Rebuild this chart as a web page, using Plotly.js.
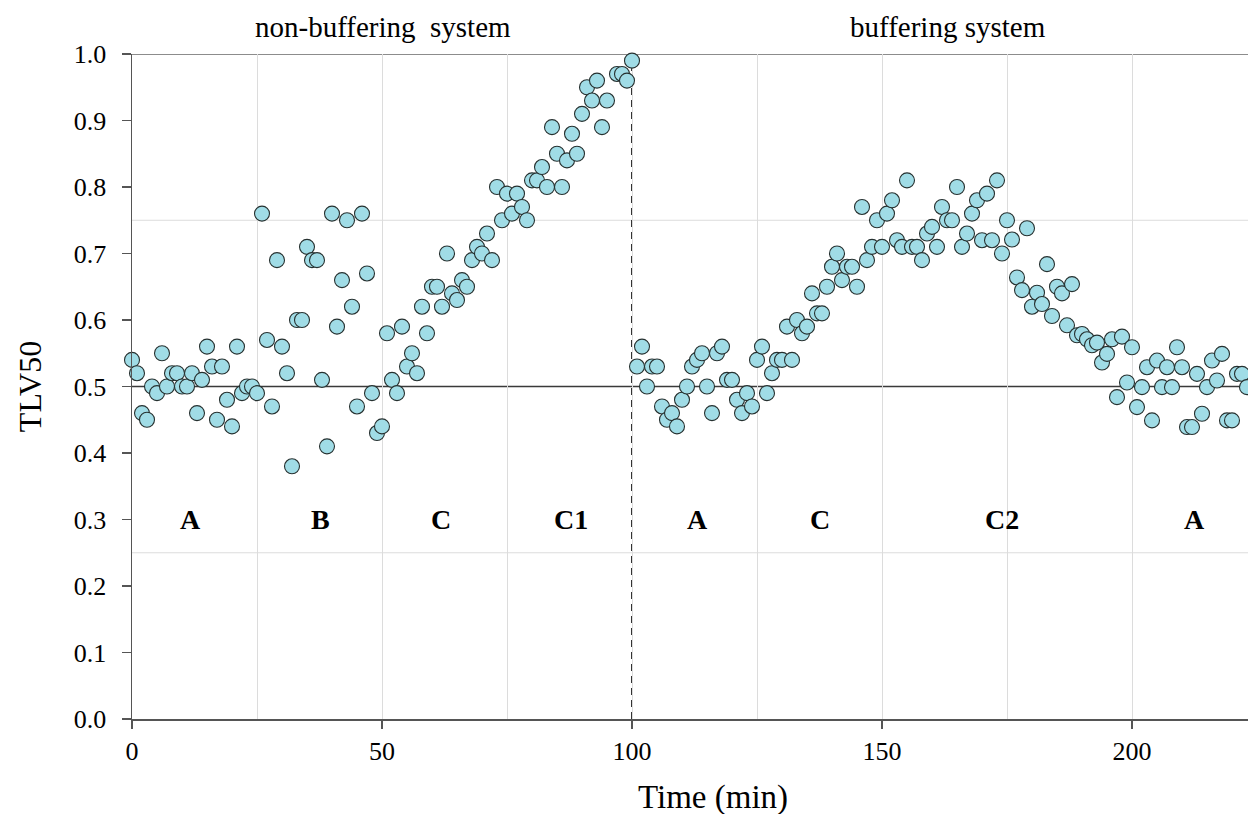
<!DOCTYPE html>
<html>
<head>
<meta charset="utf-8">
<script src="https://cdn.plot.ly/plotly-3.0.1.min.js"></script>
<style>html,body{margin:0;padding:0;background:#fff;}#chart{width:1248px;height:814px;}</style>
</head>
<body>
<div id="chart"></div>
<script>
// Non-buffering system (0-100 min)
const timeNonBuf = [0,1,2,3,4,5,6,7,8,9,10,11,12,13,14,15,16,17,18,19,20,21,22,23,24,25,26,27,28,29,30,31,32,33,34,35,36,37,38,39,40,41,42,43,44,45,46,47,48,49,50,51,52,53,54,55,56,57,58,59,60,61,62,63,64,65,66,67,68,69,70,71,72,73,74,75,76,77,78,79,80,81,82,83,84,85,86,87,88,89,90,91,92,93,94,95,97,98,99,100];
const tlvNonBuf = [0.54,0.52,0.46,0.45,0.50,0.49,0.55,0.50,0.52,0.52,0.50,0.50,0.52,0.46,0.51,0.56,0.53,0.45,0.53,0.48,0.44,0.56,0.49,0.50,0.50,0.49,0.76,0.57,0.47,0.69,0.56,0.52,0.38,0.60,0.60,0.71,0.69,0.69,0.51,0.41,0.76,0.59,0.66,0.75,0.62,0.47,0.76,0.67,0.49,0.43,0.44,0.58,0.51,0.49,0.59,0.53,0.55,0.52,0.62,0.58,0.65,0.65,0.62,0.70,0.64,0.63,0.66,0.65,0.69,0.71,0.70,0.73,0.69,0.80,0.75,0.79,0.76,0.79,0.77,0.75,0.81,0.81,0.83,0.80,0.89,0.85,0.80,0.84,0.88,0.85,0.91,0.95,0.93,0.96,0.89,0.93,0.97,0.97,0.96,0.99];

// Buffering system (101+ min)
const timeBuf = [101,102,103,104,105,106,107,108,109,110,111,112,113,114,115,116,117,118,119,120,121,122,123,124,125,126,127,128,129,130,131,132,133,134,135,136,137,138,139,140,141,142,143,144,145,146,147,148,149,150,151,152,153,154,155,156,157,158,159,160,161,162,163,164,165,166,167,168,169,170,171,172,173,174,175,176,177,178,179,180,181,182,183,184,185,186,187,188,189,190,191,192,193,194,195,196,197,198,199,200,201,202,203,204,205,206,207,208,209,210,211,212,213,214,215,216,217,218,219,220,221,222,223,224];
const tlvBuf = [0.53,0.56,0.50,0.53,0.53,0.47,0.45,0.46,0.44,0.48,0.50,0.53,0.54,0.55,0.50,0.46,0.55,0.56,0.51,0.51,0.48,0.46,0.49,0.47,0.54,0.56,0.49,0.52,0.54,0.54,0.59,0.54,0.60,0.58,0.59,0.64,0.61,0.61,0.65,0.68,0.70,0.66,0.68,0.68,0.65,0.77,0.69,0.71,0.75,0.71,0.76,0.78,0.72,0.71,0.81,0.71,0.71,0.69,0.73,0.74,0.71,0.77,0.75,0.75,0.80,0.71,0.73,0.76,0.78,0.72,0.79,0.72,0.81,0.70,0.75,0.721,0.664,0.645,0.738,0.620,0.641,0.624,0.684,0.606,0.650,0.640,0.592,0.654,0.577,0.579,0.571,0.562,0.566,0.536,0.549,0.571,0.484,0.575,0.506,0.559,0.469,0.499,0.529,0.449,0.539,0.499,0.529,0.499,0.559,0.529,0.439,0.439,0.519,0.459,0.499,0.539,0.509,0.549,0.449,0.449,0.519,0.519,0.499,0.43];

// Phase labels
const phaseLabels = ['A','B','C','C1','A','C','C2','A'];
const phaseX = [11.6,37.6,61.8,87.8,113,137.6,174,212.4];
const phaseY = 0.3;

const systemLabels = ['non-buffering  system','buffering system'];
const systemX = [50.2,163.2];

const xTicks = [0,50,100,150,200];
const yTicks = [0,0.1,0.2,0.3,0.4,0.5,0.6,0.7,0.8,0.9,1.0];
const xTitle = 'Time (min)';
const yTitle = 'TLV50';

const FONT = 'Liberation Serif, Times New Roman, serif';
const markerStyle = {size:15, color:'#a0dce6', line:{color:'#26302f', width:1.1}};

const traces = [
  {x:timeNonBuf, y:tlvNonBuf, type:'scatter', mode:'markers', marker:markerStyle, cliponaxis:false, showlegend:false, hoverinfo:'x+y'},
  {x:timeBuf, y:tlvBuf, type:'scatter', mode:'markers', marker:markerStyle, cliponaxis:false, showlegend:false, hoverinfo:'x+y'}
];

const annotations = [];
phaseLabels.forEach((t,i)=>annotations.push({x:phaseX[i], y:phaseY, xref:'x', yref:'y', text:'<b>'+t+'</b>', showarrow:false, font:{family:FONT, size:28, color:'#000'}, xanchor:'center', yanchor:'middle'}));
systemLabels.forEach((t,i)=>annotations.push({x:systemX[i], y:1.0406, xref:'x', yref:'paper', text:t, showarrow:false, font:{family:FONT, size:29, color:'#000'}, xanchor:'center', yanchor:'middle'}));
// x-axis title (placed as in the reference, slightly right of plot centre)
annotations.push({x:0.5206, y:-0.1173, xref:'paper', yref:'paper', text:xTitle, showarrow:false, font:{family:FONT, size:33, color:'#000'}, xanchor:'center', yanchor:'middle'});

const shapes = [
  {type:'line', xref:'paper', x0:0, x1:1, yref:'y', y0:0.25, y1:0.25, line:{color:'#dcdcdc', width:1}, layer:'below'},
  {type:'line', xref:'paper', x0:0, x1:1, yref:'y', y0:0.75, y1:0.75, line:{color:'#dcdcdc', width:1}, layer:'below'},
  {type:'line', xref:'paper', x0:0, x1:1, yref:'y', y0:0.5, y1:0.5, line:{color:'#3a3a3a', width:1.3}, layer:'below'},
  {type:'line', xref:'paper', x0:0, x1:1, yref:'y', y0:1.0, y1:1.0, line:{color:'#666', width:1.5}, layer:'below'},
  {type:'line', xref:'x', x0:100, x1:100, yref:'y', y0:0, y1:1.0, line:{color:'#333', width:2, dash:'7px,5px'}, layer:'below'}
];

const layout = {
  width:1248, height:814,
  margin:{l:132, r:0, t:54, b:95},
  paper_bgcolor:'#fff', plot_bgcolor:'#fff',
  font:{family:FONT, color:'#000'},
  xaxis:{
    range:[0,223.2], tickvals:xTicks, ticktext:xTicks.map(String),
    showgrid:true, gridcolor:'#dcdcdc', gridwidth:1,
    minor:{tick0:0, dtick:25, showgrid:true, gridcolor:'#dcdcdc', gridwidth:1, ticklen:0},
    zeroline:false, showline:true, linecolor:'#555', linewidth:1.5,
    ticks:'outside', ticklen:8, tickcolor:'#555', tickwidth:1.5,
    tickfont:{family:FONT, size:26, color:'#000'},
    automargin:false
  },
  yaxis:{
    range:[0,1.0], tickvals:yTicks, ticktext:yTicks.map(v=>v.toFixed(1)),
    showgrid:false, zeroline:false, showline:true, linecolor:'#555', linewidth:1.5,
    ticks:'outside', ticklen:9, tickcolor:'#555', tickwidth:1.5,
    ticklabelstandoff:10,
    tickfont:{family:FONT, size:26, color:'#000'},
    title:{text:yTitle, font:{family:FONT, size:32, color:'#000'}, standoff:22},
    automargin:false
  },
  annotations:annotations,
  shapes:shapes
};

Plotly.newPlot('chart', traces, layout, {displayModeBar:false, staticPlot:true});
</script>
</body>
</html>
